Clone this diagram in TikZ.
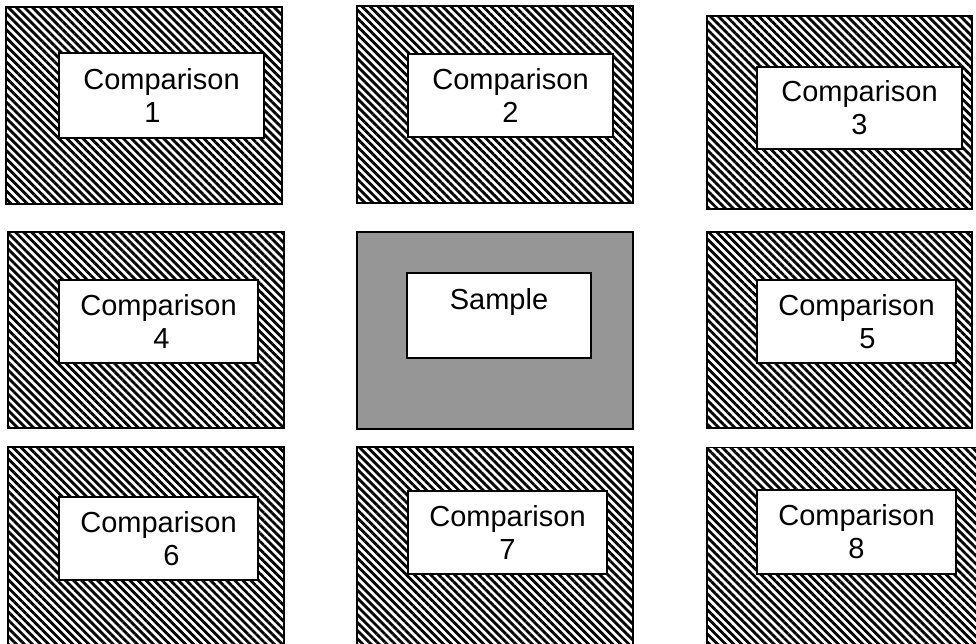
\documentclass[tikz,border=0pt]{standalone}
\usepackage{fontspec}
\setmainfont{Liberation Sans}
\usetikzlibrary{patterns.meta}

\begin{document}
\begin{tikzpicture}[x=1pt,y=-1pt,
		hatch/.style={rectangle,draw,line width=1.5pt,
			pattern={Lines[angle=-45,distance=5.7pt,line width=2.8pt]}},
		plain/.style={rectangle,draw,line width=1.5pt,fill=black!41},
		tag/.style={rectangle,draw,line width=1.5pt,fill=white,inner sep=0pt,
			align=center,font=\fontsize{29}{33}\selectfont}]
   \useasboundingbox [fill=white] (0,0) rectangle (976,644);

   % top row
   \node [hatch,minimum width=276pt,minimum height=197pt] (c1) at (144,105.5) {};
   \node [hatch,minimum width=276pt,minimum height=197pt] (c2) at (495,104.5) {};
   \node [hatch,minimum width=265pt,minimum height=193pt] (c3) at (839.5,112.5) {};
   \node [tag,minimum width=205pt,minimum height=85pt] (t1) at (161.5,95.5) {Comparison\\ \hspace*{-18pt}1};
   \node [tag,minimum width=205pt,minimum height=83pt] (t2) at (510.5,95.5) {Comparison\\ 2};
   \node [tag,minimum width=205pt,minimum height=82pt] (t3) at (859.5,108) {Comparison\\ 3};

   % middle row
   \node [hatch,minimum width=276pt,minimum height=196pt] (c4) at (146,330) {};
   \node [plain,minimum width=276pt,minimum height=197pt] (smp) at (495,330.5) {};
   \node [hatch,minimum width=265pt,minimum height=196pt] (c5) at (839.5,330) {};
   \node [tag,minimum width=199pt,minimum height=83pt] (t4) at (158.5,321.5) {Comparison\\ \hspace*{6pt}4};
   \node [tag,minimum width=184pt,minimum height=85pt] (ts) at (499,315.5) {Sample\\ \mbox{}};
   \node [tag,minimum width=199pt,minimum height=83pt] (t5) at (856.5,321.5) {Comparison\\ \hspace*{22pt}5};

   % bottom row
   \node [hatch,minimum width=276pt,minimum height=203pt] (c6) at (146,548.5) {};
   \node [hatch,minimum width=276pt,minimum height=203pt] (c7) at (495,548.5) {};
   \node [hatch,minimum width=273pt,minimum height=203pt] (c8) at (843.5,549) {};
   \node [tag,minimum width=199pt,minimum height=83pt] (t6) at (158.5,538.5) {Comparison\\ \hspace*{26pt}6};
   \node [tag,minimum width=199pt,minimum height=83pt] (t7) at (507.5,532.5) {Comparison\\ 7};
   \node [tag,minimum width=199pt,minimum height=84pt] (t8) at (856.5,532) {Comparison\\ 8};
\end{tikzpicture}
\end{document}
